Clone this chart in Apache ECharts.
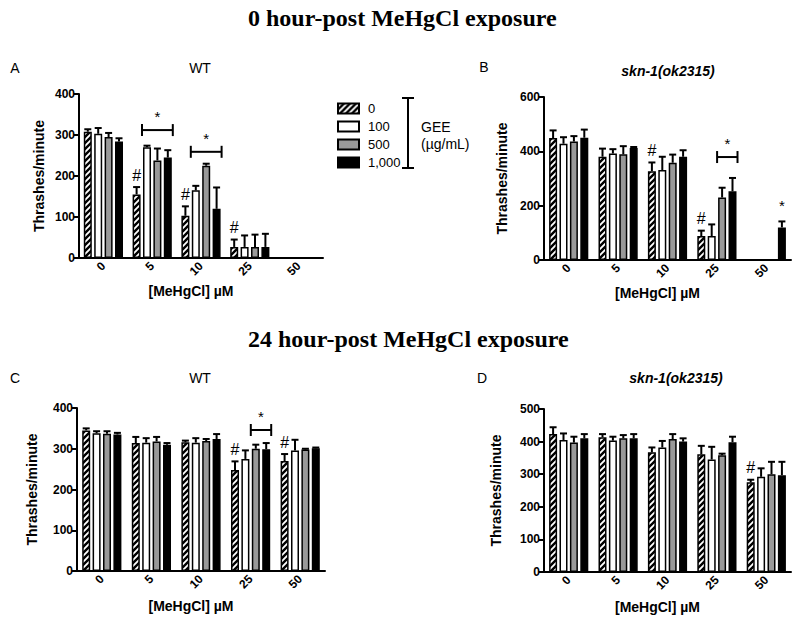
<!DOCTYPE html>
<html><head><meta charset="utf-8">
<script src="https://cdn.jsdelivr.net/npm/echarts@6/dist/echarts.min.js"></script>
<style>html,body{margin:0;padding:0;background:#fff}#c{width:800px;height:627px}</style>
</head><body><div id="c"></div>
<script>
// ---------- data ----------
const categories = ['0', '5', '10', '25', '50'];
const doses = ['0', '100', '500', '1,000'];

// Panel A: 0 h, WT
const A_gee0 = [308, 155, 103, 27, 0],   A_err0 = [6, 18, 23, 18, 0];
const A_gee100 = [303, 270, 165, 27, 0], A_err100 = [14, 4, 11, 28, 0];
const A_gee500 = [295, 238, 225, 27, 0], A_err500 = [10, 29, 5, 30, 0];
const A_gee1000 = [284, 245, 120, 27, 0], A_err1000 = [8, 18, 52, 32, 0];
// Panel B: 0 h, skn-1
const B_gee0 = [449, 380, 327, 88, 0],   B_err0 = [28, 30, 32, 20, 0];
const B_gee100 = [428, 392, 331, 88, 0], B_err100 = [24, 16, 49, 43, 0];
const B_gee500 = [436, 389, 358, 230, 0], B_err500 = [20, 30, 30, 36, 0];
const B_gee1000 = [450, 412, 380, 253, 120], B_err1000 = [30, 4, 24, 49, 22];
// Panel C: 24 h, WT
const C_gee0 = [345, 314, 316, 248, 270], C_err0 = [5, 15, 4, 21, 17];
const C_gee100 = [338, 315, 315, 275, 296], C_err100 = [5, 11, 11, 21, 26];
const C_gee500 = [337, 318, 319, 300, 298], C_err500 = [6, 11, 5, 10, 2];
const C_gee1000 = [335, 310, 324, 299, 301], C_err1000 = [4, 4, 12, 15, 2];
// Panel D: 24 h, skn-1
const D_gee0 = [423, 413, 367, 361, 275], D_err0 = [21, 10, 15, 26, 8];
const D_gee100 = [405, 403, 382, 345, 292], D_err100 = [20, 12, 20, 39, 26];
const D_gee500 = [397, 410, 408, 358, 300], D_err500 = [18, 10, 15, 5, 38];
const D_gee1000 = [410, 410, 400, 398, 297], D_err1000 = [13, 13, 10, 17, 41];

// y-axis ranges
const yMax = [400, 600, 400, 500];
const yInterval = [100, 200, 100, 100];

// significance marks: '#' [category, dose], lone '*' [category, dose],
// brackets with '*' [category, fromDose, toDose, level]
const A_hash = [[1, 0], [2, 0], [3, 0]];
const B_hash = [[2, 0], [3, 0]];
const C_hash = [[3, 0], [4, 0]];
const D_hash = [[4, 0]];
const B_star = [[4, 3]];
const A_brackets = [[1, 1, 3, 312], [2, 1, 3, 259]];
const B_brackets = [[3, 2, 3, 379]];
const C_brackets = [[3, 2, 3, 346]];

// ---------- build ----------
const panels = [
  {vals: [A_gee0, A_gee100, A_gee500, A_gee1000], errs: [A_err0, A_err100, A_err500, A_err1000], hash: A_hash, star: [], brackets: A_brackets},
  {vals: [B_gee0, B_gee100, B_gee500, B_gee1000], errs: [B_err0, B_err100, B_err500, B_err1000], hash: B_hash, star: B_star, brackets: B_brackets},
  {vals: [C_gee0, C_gee100, C_gee500, C_gee1000], errs: [C_err0, C_err100, C_err500, C_err1000], hash: C_hash, star: [], brackets: C_brackets},
  {vals: [D_gee0, D_gee100, D_gee500, D_gee1000], errs: [D_err0, D_err100, D_err500, D_err1000], hash: D_hash, star: [], brackets: []}
];

const grids = [
  {left: 79, top: 94, width: 244, height: 164},
  {left: 544, top: 97, width: 247, height: 163},
  {left: 77, top: 408, width: 248, height: 163},
  {left: 544, top: 409, width: 247, height: 163}
];
const yNameGap = [33, 35, 38, 41];
const xNameGap = [26, 26, 28, 28];
const xNameShift = [20, 20, 20, 20];

const SANS = '"Liberation Sans", Arial, sans-serif';
const SERIF = '"Liberation Serif", "Times New Roman", serif';
const BAR_W = 8, BAR_GAP = 0.3;
function barOffset(i) { return (i - 1.5) * BAR_W * (1 + BAR_GAP); }

function hatchCanvas() {
  const c = document.createElement('canvas');
  c.width = 6; c.height = 6;
  const g = c.getContext('2d');
  g.fillStyle = '#fff'; g.fillRect(0, 0, 6, 6);
  g.strokeStyle = '#000'; g.lineWidth = 2.4; g.lineCap = 'square';
  g.beginPath();
  g.moveTo(-1, 7); g.lineTo(7, -1);
  g.moveTo(-4, 4); g.lineTo(4, -4);
  g.moveTo(2, 10); g.lineTo(10, 2);
  g.stroke();
  return c;
}
const fills = [{image: hatchCanvas(), repeat: 'repeat'}, '#ffffff', '#999999', '#000000'];

const xAxes = [], yAxes = [], series = [];
panels.forEach((p, gi) => {
  xAxes.push({
    type: 'category', gridIndex: gi, data: categories,
    axisLine: {lineStyle: {color: '#000', width: 2}},
    axisTick: {alignWithLabel: true, length: 5, lineStyle: {color: '#000', width: 2}},
    axisLabel: {rotate: 45, color: '#000', fontFamily: SANS, fontWeight: 'bold', fontSize: 12, margin: 6},
    name: '[MeHgCl] \u00b5M', nameLocation: 'middle', nameGap: xNameGap[gi],
    nameTextStyle: {color: '#000', fontFamily: SANS, fontWeight: 'bold', fontSize: 14, padding: [0, xNameShift[gi], 0, 0]}
  });
  yAxes.push({
    type: 'value', gridIndex: gi, min: 0, max: yMax[gi], interval: yInterval[gi],
    axisLine: {show: true, lineStyle: {color: '#000', width: 2}},
    axisTick: {show: true, length: 5, lineStyle: {color: '#000', width: 2}},
    axisLabel: {color: '#000', fontFamily: SANS, fontWeight: 'bold', fontSize: 12, margin: 4},
    splitLine: {show: false},
    name: 'Thrashes/minute', nameLocation: 'middle', nameGap: yNameGap[gi],
    nameTextStyle: {color: '#000', fontFamily: SANS, fontWeight: 'bold', fontSize: 14}
  });
  p.vals.forEach((v, di) => {
    series.push({
      type: 'bar', name: doses[di], xAxisIndex: gi, yAxisIndex: gi,
      data: v, barWidth: BAR_W, barGap: (BAR_GAP * 100) + '%',
      itemStyle: {color: fills[di], borderColor: '#000', borderWidth: 1.5},
      silent: true
    });
  });
  // error bars
  const errData = [];
  p.vals.forEach((v, di) => v.forEach((val, ci) => {
    if (p.errs[di][ci] > 0) errData.push([ci, val, val + p.errs[di][ci], di]);
  }));
  series.push({
    type: 'custom', xAxisIndex: gi, yAxisIndex: gi, z: 5, silent: true,
    data: errData, encode: {x: 0, y: 2},
    renderItem: (params, api) => {
      const ci = api.value(0), lo = api.coord([ci, api.value(1)]), hi = api.coord([ci, api.value(2)]);
      const x = lo[0] + barOffset(api.value(3));
      return {type: 'group', children: [
        {type: 'line', shape: {x1: x, y1: lo[1], x2: x, y2: hi[1]}, style: {stroke: '#000', lineWidth: 2}},
        {type: 'line', shape: {x1: x - 3.5, y1: hi[1], x2: x + 3.5, y2: hi[1]}, style: {stroke: '#000', lineWidth: 2}}
      ]};
    }
  });
  // '#' and lone '*' marks above bar tops
  const markData = [];
  p.hash.forEach(([ci, di]) => markData.push([ci, p.vals[di][ci] + p.errs[di][ci], di, 0]));
  p.star.forEach(([ci, di]) => markData.push([ci, p.vals[di][ci] + p.errs[di][ci], di, 1]));
  series.push({
    type: 'custom', xAxisIndex: gi, yAxisIndex: gi, z: 6, silent: true,
    data: markData, encode: {x: 0, y: 1},
    renderItem: (params, api) => {
      const ci = api.value(0), pt = api.coord([ci, api.value(1)]);
      const isStar = api.value(3) === 1;
      return {type: 'text', x: pt[0] + barOffset(api.value(2)), y: pt[1] - (isStar ? 8 : 4),
        style: {text: isStar ? '*' : '#', font: (isStar ? '15px ' : '16px ') + SANS, fill: '#000',
          textAlign: 'center', textVerticalAlign: 'bottom'}};
    }
  });
  // brackets
  series.push({
    type: 'custom', xAxisIndex: gi, yAxisIndex: gi, z: 6, silent: true,
    data: p.brackets, encode: {x: 0, y: 3},
    renderItem: (params, api) => {
      const ci = api.value(0), pt = api.coord([ci, api.value(3)]);
      const x1 = pt[0] + barOffset(api.value(1)) - BAR_W / 2 - 1;
      const x2 = pt[0] + barOffset(api.value(2)) + BAR_W / 2 + 1;
      const y = pt[1];
      return {type: 'group', children: [
        {type: 'line', shape: {x1: x1, y1: y, x2: x2, y2: y}, style: {stroke: '#000', lineWidth: 2}},
        {type: 'line', shape: {x1: x1, y1: y - 6, x2: x1, y2: y + 6}, style: {stroke: '#000', lineWidth: 2}},
        {type: 'line', shape: {x1: x2, y1: y - 6, x2: x2, y2: y + 6}, style: {stroke: '#000', lineWidth: 2}},
        {type: 'text', x: (x1 + x2) / 2, y: y - 6,
          style: {text: '*', font: '15px ' + SANS, fill: '#000', textAlign: 'center', textVerticalAlign: 'bottom'}}
      ]};
    }
  });
});

function txt(text, x, y, font, align) {
  return {type: 'text', x: x, y: y, silent: true,
    style: {text: text, font: font, fill: '#000', textAlign: align || 'center', textVerticalAlign: 'middle'}};
}

const chart = echarts.init(document.getElementById('c'), null, {renderer: 'svg', width: 800, height: 627});
chart.setOption({
  animation: false,
  backgroundColor: '#fff',
  grid: grids,
  xAxis: xAxes,
  yAxis: yAxes,
  series: series,
  legend: {
    data: doses, orient: 'vertical', left: 332, top: 97,
    icon: 'rect', itemWidth: 21, itemHeight: 10, itemGap: 5, selectedMode: false,
    textStyle: {color: '#000', fontFamily: SANS, fontSize: 13, padding: [0, 0, 0, 4]}
  },
  graphic: [
    txt('0 hour-post MeHgCl exposure', 248, 18, 'bold 24px ' + SERIF, 'left'),
    txt('24 hour-post MeHgCl exposure', 248, 339, 'bold 24px ' + SERIF, 'left'),
    txt('A', 15, 68, '14px ' + SANS),
    txt('WT', 200, 68, '14px ' + SANS),
    txt('B', 484, 67, '14px ' + SANS),
    txt('skn-1(ok2315)', 668, 71, 'italic bold 14px ' + SANS),
    txt('C', 15, 378, '14px ' + SANS),
    txt('WT', 200, 378, '14px ' + SANS),
    txt('D', 482, 378, '14px ' + SANS),
    txt('skn-1(ok2315)', 676, 378, 'italic bold 14px ' + SANS),
    {type: 'line', silent: true, shape: {x1: 408, y1: 98, x2: 408, y2: 168}, style: {stroke: '#000', lineWidth: 2}},
    {type: 'line', silent: true, shape: {x1: 402, y1: 98, x2: 414, y2: 98}, style: {stroke: '#000', lineWidth: 2}},
    {type: 'line', silent: true, shape: {x1: 402, y1: 168, x2: 414, y2: 168}, style: {stroke: '#000', lineWidth: 2}},
    txt('GEE', 421, 127, '14px ' + SANS, 'left'),
    txt('(\u00b5g/mL)', 421, 144, '14px ' + SANS, 'left')
  ]
});
</script>
</body></html>
